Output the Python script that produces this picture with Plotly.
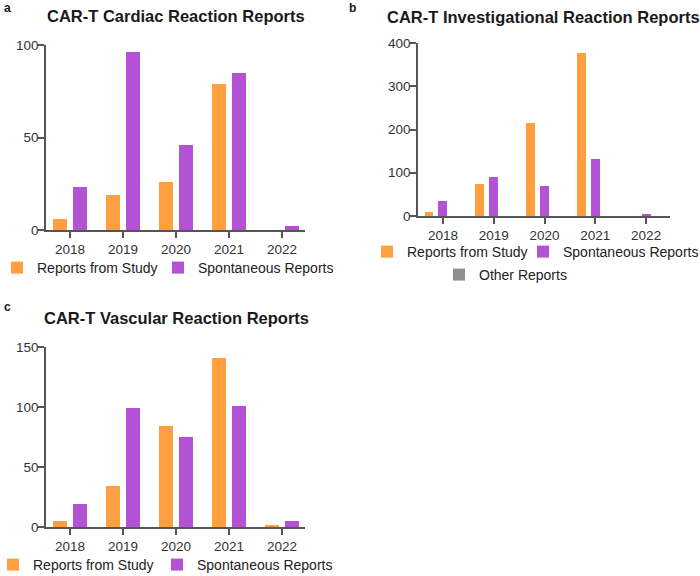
import plotly.graph_objects as go

# ---------------- data ----------------
years = ["2018", "2019", "2020", "2021", "2022"]

cardiac_study = [6, 19, 26, 79, 0]
cardiac_spont = [23, 96, 46, 85, 2]

invest_study = [9, 73, 215, 377, 0]
invest_spont = [35, 91, 69, 131, 5]
invest_other = [0, 0, 0, 0, 0]

vascular_study = [5, 34, 84, 141, 1]
vascular_spont = [19, 99, 75, 101, 5]

series_names = ["Reports from Study", "Spontaneous Reports", "Other Reports"]

# ---------------- style ----------------
W, H = 700, 576
ORANGE = "#FF9F40"
PURPLE = "#B452D6"
GRAY = "#8F8F93"
AXIS = "#555555"
FONT = "Liberation Sans, Arial, sans-serif"


def px_x(p):
    return p / W


def px_y(p):
    return 1 - p / H


fig = go.Figure()

# panel a
fig.add_trace(go.Bar(x=years, y=cardiac_study, name=series_names[0], marker_color=ORANGE,
                     offset=-0.32, width=0.26, xaxis="x", yaxis="y", legend="legend"))
fig.add_trace(go.Bar(x=years, y=cardiac_spont, name=series_names[1], marker_color=PURPLE,
                     offset=0.06, width=0.26, xaxis="x", yaxis="y", legend="legend2"))

# panel b
fig.add_trace(go.Bar(x=years, y=invest_study, name=series_names[0], marker_color=ORANGE,
                     offset=-0.36, width=0.17, xaxis="x2", yaxis="y2", legend="legend3"))
fig.add_trace(go.Bar(x=years, y=invest_spont, name=series_names[1], marker_color=PURPLE,
                     offset=-0.09, width=0.18, xaxis="x2", yaxis="y2", legend="legend4"))
fig.add_trace(go.Bar(x=years, y=invest_other, name=series_names[2], marker_color=GRAY,
                     offset=0.18, width=0.17, xaxis="x2", yaxis="y2", legend="legend5"))

# panel c
fig.add_trace(go.Bar(x=years, y=vascular_study, name=series_names[0], marker_color=ORANGE,
                     offset=-0.32, width=0.26, xaxis="x3", yaxis="y3", legend="legend6"))
fig.add_trace(go.Bar(x=years, y=vascular_spont, name=series_names[1], marker_color=PURPLE,
                     offset=0.06, width=0.26, xaxis="x3", yaxis="y3", legend="legend7"))

fig.update_traces(marker_line_width=0)

xcommon = dict(type="category", showline=True, linecolor=AXIS, linewidth=1.5,
               ticks="outside", ticklen=6, tickwidth=1.5, tickcolor=AXIS,
               showgrid=False, zeroline=False, fixedrange=True,
               tickfont=dict(family=FONT, size=13.5, color="#333333"))
ycommon = dict(showline=True, linecolor=AXIS, linewidth=1.5,
               ticks="outside", ticklen=6, tickwidth=1.5, tickcolor=AXIS,
               showgrid=False, zeroline=False, fixedrange=True, ticklabelstandoff=-3,
               tickfont=dict(family=FONT, size=13.5, color="#333333"))

legcommon = dict(orientation="h", xanchor="left", yanchor="middle",
                 bgcolor="rgba(0,0,0,0)", borderwidth=0,
                 font=dict(family=FONT, size=14, color="#222222"))

# legend text starts 40 px right of the legend's left edge
legend_pos = {
    "legend": (-3, 268), "legend2": (158, 268),
    "legend3": (367, 252), "legend4": (523, 252), "legend5": (439, 275),
    "legend6": (-7, 565), "legend7": (157, 565),
}
legends = {k: dict(x=px_x(x), y=px_y(y), **legcommon) for k, (x, y) in legend_pos.items()}

fig.update_layout(
    width=W, height=H, autosize=False,
    margin=dict(l=0, r=0, t=0, b=0, autoexpand=False),
    paper_bgcolor="white", plot_bgcolor="white",
    barmode="overlay", bargap=0,
    xaxis=dict(domain=[px_x(46), px_x(305)], range=[-0.453, 4.434], anchor="y", **xcommon),
    yaxis=dict(domain=[px_y(230), px_y(45)], range=[0, 100], tickvals=[0, 50, 100],
               anchor="x", **ycommon),
    xaxis2=dict(domain=[px_x(418), px_x(670)], range=[-0.49, 4.47], anchor="y2", **xcommon),
    yaxis2=dict(domain=[px_y(216), px_y(43)], range=[0, 400], tickvals=[0, 100, 200, 300, 400],
                anchor="x2", **ycommon),
    xaxis3=dict(domain=[px_x(46), px_x(305)], range=[-0.453, 4.434], anchor="y3", **xcommon),
    yaxis3=dict(domain=[px_y(527), px_y(347)], range=[0, 150], tickvals=[0, 50, 100, 150],
                anchor="x3", **ycommon),
    showlegend=True,
    **legends,
)

titles = [
    ("CAR-T Cardiac Reaction Reports", 176, 16),
    ("CAR-T Investigational Reaction Reports", 543, 17),
    ("CAR-T Vascular Reaction Reports", 176, 318),
]
for text, cx, cy in titles:
    fig.add_annotation(text=f"<b>{text}</b>", x=px_x(cx), y=px_y(cy), xref="paper", yref="paper",
                       xanchor="center", yanchor="middle", showarrow=False,
                       font=dict(family=FONT, size=16.5, color="#1a1a1a"))

for lab, lx, ly in [("a", 2, 8), ("b", 347, 8), ("c", 2, 307)]:
    fig.add_annotation(text=f"<b>{lab}</b>", x=px_x(lx), y=px_y(ly), xref="paper", yref="paper",
                       xanchor="left", yanchor="middle", showarrow=False,
                       font=dict(family=FONT, size=12, color="#1a1a1a"))

fig.write_html("out.html", config={"displayModeBar": False},
               post_script="document.body.style.margin='0';document.body.style.overflow='hidden';")
